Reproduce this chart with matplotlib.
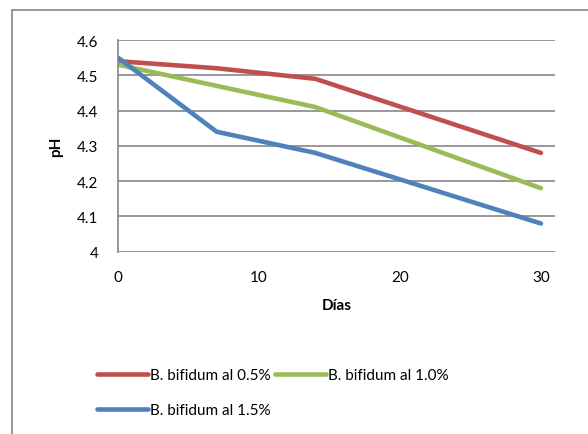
import matplotlib
matplotlib.use("Agg")
import matplotlib.pyplot as plt
from matplotlib.patches import Rectangle

plt.rcParams['font.family'] = ['Lato', 'DejaVu Sans']

dias = [0, 7, 14, 30]
ph_05 = [4.54, 4.52, 4.49, 4.28]
ph_10 = [4.53, 4.47, 4.41, 4.18]
ph_15 = [4.55, 4.34, 4.28, 4.08]
etiquetas = ["B. bifidum al 0.5%", "B. bifidum al 1.0%", "B. bifidum al 1.5%"]
colores = ["#C0504D", "#9BBB59", "#4F81BD"]

fig = plt.figure(figsize=(5.88, 4.35), dpi=100)
ax = fig.add_axes([0.2007, 0.419, 0.7433, 0.4867])

lineas = []
for serie, etiqueta, color in zip([ph_05, ph_10, ph_15], etiquetas, colores):
    l, = ax.plot(dias, serie, color=color, lw=3.3, label=etiqueta,
                 solid_capstyle='round', solid_joinstyle='round')
    lineas.append(l)

ax.set_xlim(0, 31)
ax.set_ylim(4, 4.6)
ax.set_xticks([0, 10, 20, 30])
ax.set_yticks([4, 4.1, 4.2, 4.3, 4.4, 4.5, 4.6])
ax.set_yticklabels(["4", "4.1", "4.2", "4.3", "4.4", "4.5", "4.6"])
ax.grid(axis='y', color='#868686', lw=1.2)
ax.set_axisbelow(True)
for s in ['top', 'right', 'bottom']:
    ax.spines[s].set_visible(False)
ax.spines['left'].set_color('#868686')
ax.spines['left'].set_linewidth(1.2)
ax.tick_params(length=0, labelsize=11, colors='black')
ax.tick_params(axis='x', pad=13)
ax.tick_params(axis='y', pad=14)
ax.set_xlabel("Días", fontsize=11, fontweight='bold', labelpad=10)
ax.set_ylabel("pH", fontsize=11, fontweight='bold', labelpad=10)

# orden para que quede por filas: rojo, verde / azul
orden = [lineas[0], lineas[2], lineas[1]]
fig.legend(orden, [l.get_label() for l in orden], ncol=2, frameon=False,
           loc='upper left', bbox_to_anchor=(0.155, 0.166), fontsize=11,
           handlelength=3.3, handletextpad=0.15, columnspacing=0.3,
           labelspacing=1.4, borderaxespad=0)

fig.patches.append(Rectangle((12 / 588, -0.1), 1.2, (435 - 11) / 435 + 0.1,
                             transform=fig.transFigure, fill=False,
                             edgecolor='#868686', lw=1.2))

fig.savefig("out.png", dpi=100)
